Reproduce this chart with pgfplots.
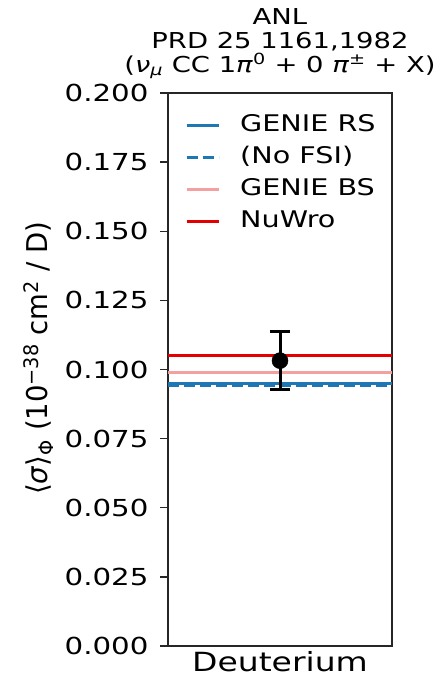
\documentclass[border=0pt]{standalone}
\usepackage{fontspec}
\setmainfont[FakeStretch=1.25]{DejaVu Sans}
\newfontfamily\ylabfont[FakeStretch=0.96]{DejaVu Sans}
\usepackage{pgfplots}
\pgfplotsset{compat=1.18}
\definecolor{rsblue}{RGB}{31,119,180}
\definecolor{bspink}{RGB}{242,160,160}
\definecolor{nuwred}{RGB}{228,0,0}

\begin{document}
\begin{tikzpicture}
\useasboundingbox (0,0) rectangle (444bp,677bp);
\begin{axis}[
    at={(168bp,31bp)}, anchor=south west,
    scale only axis, width=224bp, height=553bp,
    xmin=-1, xmax=1, ymin=0, ymax=0.2,
    xtick={0}, xticklabels={Deuterium},
    ytick={0,0.025,0.05,0.075,0.1,0.125,0.15,0.175,0.2},
    yticklabels={0.000,0.025,0.050,0.075,0.100,0.125,0.150,0.175,0.200},
    ytick pos=left,
    axis line style={black!85, line width=1.3bp},
    tick align=outside, major tick length=8bp,
    tick style={black!85, line width=1.3bp},
    xtick style={draw=none},
    yticklabel style={font=\fontsize{23.5}{27}\selectfont, xshift=-8bp},
    xticklabel style={font=\fontsize{26.5}{30}\selectfont, yshift=6bp},
    ylabel={⟨\textit{σ}⟩\textsubscript{Φ} (10\textsuperscript{−38} cm\textsuperscript{2} / D)},
    ylabel style={font=\ylabfont\fontsize{28.75}{32}\selectfont, at={(ticklabel cs:0.52)}},
    ylabel shift=4bp,
    title={ANL\\PRD 25 1161,1982\\(\textit{ν}\textsubscript{\textit{μ}} CC 1\textit{π}\textsuperscript{0} + 0 \textit{π}\textsuperscript{±} + X)},
    title style={align=center, font=\fontsize{22}{24}\selectfont, yshift=5bp},
    legend style={draw=none, fill=none, at={(0,1)}, anchor=north west,
      xshift=17bp, yshift=-21bp, inner sep=0pt, row sep=10bp, column sep=20bp,
      font=\fontsize{23}{27}\selectfont,
      nodes={inner sep=0pt, text height=17bp, text depth=5bp, anchor=west}},
    legend cell align=left,
    legend image code/.code={\draw[#1] (0bp,0bp) -- (32bp,0bp);},
]
\addplot[rsblue, line width=3bp] coordinates {(-1,0.0948) (1,0.0948)};
\addlegendentry{GENIE RS}
\addplot[rsblue, line width=3bp, dash pattern=on 11bp off 5bp] coordinates {(-1,0.0941) (1,0.0941)};
\addlegendentry{(No FSI)}
\addplot[bspink, line width=3bp] coordinates {(-1,0.0990) (1,0.0990)};
\addlegendentry{GENIE BS}
\addplot[nuwred, line width=3bp] coordinates {(-1,0.1050) (1,0.1050)};
\addlegendentry{NuWro}
\addplot[black, only marks, mark=*, mark size=8bp, mark options={line width=0.5bp},
    error bars/.cd, y dir=both, y explicit,
    error bar style={line width=3bp},
    error mark options={rotate=90, mark size=10bp, line width=2.5bp}]
    coordinates {(0,0.1032) +- (0,0.0105)};
\end{axis}
\end{tikzpicture}
\end{document}
